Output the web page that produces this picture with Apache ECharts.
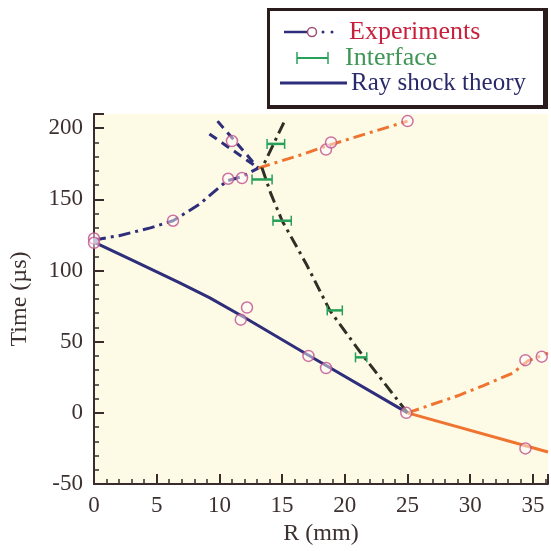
<!DOCTYPE html>
<html>
<head>
<meta charset="utf-8">
<script src="https://cdn.jsdelivr.net/npm/echarts@6/dist/echarts.min.js"></script>
<style>
  html, body { margin: 0; padding: 0; background: #ffffff; }
  #main { width: 551px; height: 551px; }
</style>
</head>
<body>
<div id="main"></div>
<script>
// ray shock theory (solid), R in mm, time in microseconds
var theoryR = [0, 3, 6.8, 9.2, 12, 17, 25];
var theoryT = [120, 107.5, 91.5, 81, 67, 41, 0];
// ray shock theory, reflected branches (dashed)
var theoryUpperAR = [9.85, 13.1];
var theoryUpperAT = [205, 172];
var theoryUpperBR = [9.2, 13.1];
var theoryUpperBT = [196, 172];

// experiment fits (dash-dot / solid)
var expBlueR = [0, 2, 4.5, 6.3, 8.4, 10.6, 11.8, 13.1];
var expBlueT = [121.5, 124.5, 130, 135, 146.5, 163, 166, 172];
var expOrangeUpR = [13.1, 16.4, 18.7, 25];
var expOrangeUpT = [172, 181, 188, 205];
var expOrangeLowR = [25, 36.2];
var expOrangeLowT = [0, -27.5];
var expOrangeRightR = [25, 29, 31, 33.4, 34.6, 36.2];
var expOrangeRightT = [0, 12, 19, 28, 36.5, 42];

// interface trajectory (dash-dot)
var ifaceLineR = [25, 21.2, 18.8, 16.9, 15.0, 14.1, 13.4, 15.3];
var ifaceLineT = [0, 43, 72, 105, 135, 154, 172, 207];

// experiment points
var expR = [0, 0, 6.3, 10.7, 11.8, 11.0, 18.5, 18.9, 25.0, 12.2, 11.7, 17.1, 18.5, 24.9, 34.4, 35.7, 34.4];
var expT = [122.5, 119.5, 135, 164.5, 165, 191, 185, 190, 205, 74, 65.5, 40, 31.5, 0, 37, 39.5, -25];

// interface points with horizontal error
var ifaceR = [14.5, 13.4, 15.0, 19.2, 21.3];
var ifaceT = [189, 164, 135, 72, 39];
var ifaceErr = [0.7, 0.8, 0.73, 0.6, 0.45];

var xTicks = [0, 5, 10, 15, 20, 25, 30, 35];
var yTicks = [-50, 0, 50, 100, 150, 200];

var NAVY = '#2e2e7a';
var ORANGE = '#ee7430';
var DARK = '#2f2f25';
var GREEN = '#27a05a';
var PINK = '#c0508c';
var AXIS = '#3a2c2c';
var FONT = 'Liberation Serif';
var DASHDOT = [12, 5, 3, 5];

function zip(xs, ys) {
    return xs.map(function (x, i) { return [x, ys[i]]; });
}

function lineSeries(xs, ys, color, type) {
    return {
        type: 'line',
        data: zip(xs, ys),
        showSymbol: false,
        symbol: 'none',
        silent: true,
        lineStyle: { color: color, width: 3, type: type, cap: 'butt' },
        z: 3
    };
}

var chart = echarts.init(document.getElementById('main'));

var axisCommon = {
    axisLine: { show: true, onZero: false, lineStyle: { color: AXIS, width: 2 } },
    axisTick: { show: true, inside: true, length: 10, lineStyle: { color: AXIS, width: 2 } },
    minorTick: { show: true, splitNumber: 5, length: 5, lineStyle: { color: AXIS, width: 1.5 } },
    splitLine: { show: false },
    axisLabel: { color: '#3c3030', fontFamily: FONT, fontSize: 23 },
    nameTextStyle: { color: '#3c3030', fontFamily: FONT, fontSize: 24 }
};

var option = {
    animation: false,
    backgroundColor: '#ffffff',
    grid: {
        left: 94, right: 2, top: 114, bottom: 60,
        show: true, backgroundColor: '#fdfae6', borderWidth: 0
    },
    xAxis: echarts.util.merge({
        type: 'value',
        min: 0, max: 36.2, interval: 5,
        name: 'R (mm)',
        nameLocation: 'middle',
        nameGap: 38,
        axisLabel: {
            margin: 10,
            formatter: function (v) { return xTicks.indexOf(v) >= 0 ? String(v) : ''; }
        }
    }, axisCommon),
    yAxis: echarts.util.merge({
        type: 'value',
        min: -50, max: 210, interval: 50,
        name: 'Time (µs)',
        nameLocation: 'middle',
        nameRotate: 90,
        nameGap: 62,
        axisLabel: {
            margin: 11,
            padding: [6, 0, 0, 0],
            formatter: function (v) { return yTicks.indexOf(v) >= 0 ? String(v) : ''; }
        }
    }, axisCommon),
    series: [
        lineSeries(theoryR, theoryT, NAVY, 'solid'),
        lineSeries(theoryUpperAR, theoryUpperAT, NAVY, [9, 6]),
        lineSeries(theoryUpperBR, theoryUpperBT, NAVY, [9, 6]),
        lineSeries(expBlueR, expBlueT, NAVY, DASHDOT),
        lineSeries(expOrangeUpR, expOrangeUpT, ORANGE, DASHDOT),
        lineSeries(expOrangeLowR, expOrangeLowT, ORANGE, 'solid'),
        lineSeries(expOrangeRightR, expOrangeRightT, ORANGE, DASHDOT),
        lineSeries(ifaceLineR, ifaceLineT, DARK, DASHDOT),
        {
            type: 'custom',
            silent: true,
            z: 4,
            data: ifaceR.map(function (r, i) { return [r, ifaceT[i], ifaceErr[i]]; }),
            encode: { x: 0, y: 1 },
            renderItem: function (params, api) {
                var r = api.value(0), t = api.value(1), e = api.value(2);
                var lo = api.coord([r - e, t]);
                var hi = api.coord([r + e, t]);
                var cap = { stroke: GREEN, lineWidth: 1.5 };
                return {
                    type: 'group',
                    children: [
                        { type: 'line', shape: { x1: lo[0], y1: lo[1], x2: hi[0], y2: hi[1] }, style: { stroke: GREEN, lineWidth: 2.5 } },
                        { type: 'line', shape: { x1: lo[0], y1: lo[1] - 5, x2: lo[0], y2: lo[1] + 5 }, style: cap },
                        { type: 'line', shape: { x1: hi[0], y1: hi[1] - 5, x2: hi[0], y2: hi[1] + 5 }, style: cap }
                    ]
                };
            }
        },
        {
            type: 'scatter',
            silent: true,
            z: 5,
            data: zip(expR, expT),
            symbol: 'circle',
            symbolSize: 11,
            itemStyle: { color: 'rgba(255,255,255,0.6)', borderColor: PINK, borderWidth: 1.5 }
        }
    ],
    graphic: [
        { type: 'rect', shape: { x: 267, y: 8, width: 281, height: 101 }, style: { fill: '#2a1c1c' }, z: 10 },
        { type: 'rect', shape: { x: 270, y: 11, width: 273, height: 94 }, style: { fill: '#ffffff' }, z: 11 },
        // Experiments
        { type: 'line', shape: { x1: 284, y1: 32, x2: 307, y2: 32 }, style: { stroke: NAVY, lineWidth: 2.5 }, z: 12 },
        { type: 'circle', shape: { cx: 312, cy: 32, r: 4.5 }, style: { fill: '#ffffff', stroke: '#9a5070', lineWidth: 1.5 }, z: 12 },
        { type: 'circle', shape: { cx: 323, cy: 32, r: 1.5 }, style: { fill: NAVY }, z: 12 },
        { type: 'circle', shape: { cx: 332, cy: 32, r: 1.5 }, style: { fill: NAVY }, z: 12 },
        { type: 'text', x: 349, y: 32, style: { text: 'Experiments', fill: '#c8203c', font: '26px "Liberation Serif"', verticalAlign: 'middle' }, z: 12 },
        // Interface
        { type: 'line', shape: { x1: 297, y1: 58, x2: 328, y2: 58 }, style: { stroke: GREEN, lineWidth: 2 }, z: 12 },
        { type: 'line', shape: { x1: 297, y1: 52, x2: 297, y2: 64 }, style: { stroke: GREEN, lineWidth: 1.5 }, z: 12 },
        { type: 'line', shape: { x1: 328, y1: 52, x2: 328, y2: 64 }, style: { stroke: GREEN, lineWidth: 1.5 }, z: 12 },
        { type: 'text', x: 345, y: 58, style: { text: 'Interface', fill: '#3f9656', font: '26px "Liberation Serif"', verticalAlign: 'middle' }, z: 12 },
        // Ray shock theory
        { type: 'line', shape: { x1: 280, y1: 83, x2: 347, y2: 83 }, style: { stroke: NAVY, lineWidth: 3 }, z: 12 },
        { type: 'text', x: 351, y: 83, style: { text: 'Ray shock theory', fill: '#2a2a6a', font: '25px "Liberation Serif"', verticalAlign: 'middle' }, z: 12 }
    ]
};

chart.setOption(option);
</script>
</body>
</html>
